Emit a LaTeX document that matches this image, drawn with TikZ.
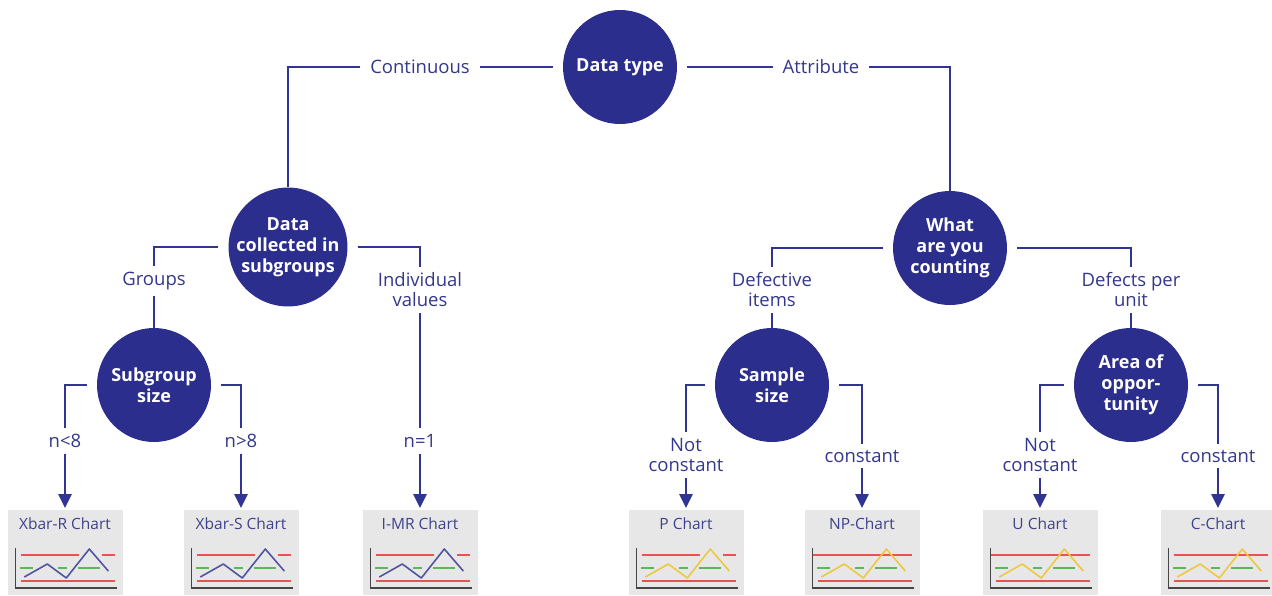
\documentclass[tikz,border=0pt]{standalone}
\usepackage{fontspec}
\setmainfont{Open Sans}
\usetikzlibrary{arrows.meta}
\definecolor{navy}{RGB}{43,46,140}
\definecolor{linecol}{RGB}{48,52,146}
\definecolor{labcol}{RGB}{52,56,140}
\definecolor{titlecol}{RGB}{62,66,142}
\definecolor{boxgrey}{RGB}{231,231,231}
\definecolor{axiscol}{RGB}{70,70,70}
\definecolor{limred}{RGB}{232,82,82}
\definecolor{cgreen}{RGB}{92,182,92}
\definecolor{dblue}{RGB}{82,84,160}
\definecolor{dyellow}{RGB}{238,200,64}

\tikzset{
  decision/.style={circle, fill=navy, text=white, minimum size=114pt, inner sep=0pt,
    align=center, font=\fontsize{18}{21}\selectfont\bfseries},
  lab/.style={fill=white, text=labcol, align=center, inner xsep=10pt, inner ysep=6pt,
    font=\fontsize{18.5}{20}\selectfont},
  conn/.style={draw=linecol, line width=2.6pt},
  arr/.style={conn, -{Triangle[width=13pt,length=14pt]}, shorten >=2pt},
  chartbox/.style={fill=boxgrey, draw=none, minimum width=115pt, minimum height=85pt,
    inner sep=0pt, anchor=north},
  charttitle/.style={text=titlecol, font=\fontsize{15.5}{17}\selectfont, inner sep=0pt},
}

% small control chart inside a grey box: #1 box node, #2 data colour, #3 upper limit path
\newcommand\spcsketch[3]{%
  \begin{scope}[shift={(#1.north west)}]
    \draw[limred, line width=1.6pt] #3;
    \draw[limred, line width=1.6pt] (14,71) -- (108,71);
    \draw[cgreen, line width=1.6pt] (13,58) -- (26,58) (51,58) -- (60,58) (71,58) -- (93,58);
    \draw[#2, line width=1.6pt, line join=round] (17,67) -- (40,54) -- (59,68) -- (82,39) -- (101,61);
    \draw[axiscol, line width=1.6pt] (8,38) -- (8,78) -- (110,78);
  \end{scope}}

\begin{document}
\begin{tikzpicture}[x=1pt, y=-1pt]
\useasboundingbox (0,0) rectangle (1272,595);

% decision circles
\node[decision] (dt) at (620,67) {Data type};
\node[decision] (dc) at (288,247) {Data\\collected in\\subgroups};
\node[decision] (wc) at (950,248) {What\\are you\\counting};
\node[decision] (sg) at (154,385) {Subgroup\\size};
\node[decision] (ss) at (772,385) {Sample\\size};
\node[decision] (ao) at (1131,385) {Area of\\oppor-\\tunity};

% chart boxes
\node[chartbox] (b1) at (65,510) {};
\node[chartbox] (b2) at (241,510) {};
\node[chartbox] (b3) at (420,510) {};
\node[chartbox] (b4) at (686,510) {};
\node[chartbox] (b5) at (862,510) {};
\node[chartbox] (b6) at (1040,510) {};
\node[chartbox] (b7) at (1218,510) {};

\node[charttitle] (t1) at ([yshift=-14pt]b1.north) {Xbar-R Chart};
\node[charttitle] (t2) at ([yshift=-14pt]b2.north) {Xbar-S Chart};
\node[charttitle] (t3) at ([yshift=-14pt]b3.north) {I-MR Chart};
\node[charttitle] (t4) at ([yshift=-14pt]b4.north) {P Chart};
\node[charttitle] (t5) at ([yshift=-14pt]b5.north) {NP-Chart};
\node[charttitle] (t6) at ([yshift=-14pt]b6.north) {U Chart};
\node[charttitle] (t7) at ([yshift=-14pt]b7.north) {C-Chart};

\spcsketch{b1}{dblue}{(14,45) -- (72,45) (95,45) -- (108,45)}
\spcsketch{b2}{dblue}{(14,45) -- (72,45) (95,45) -- (108,45)}
\spcsketch{b3}{dblue}{(14,45) -- (72,45) (95,45) -- (108,45)}
\spcsketch{b4}{dyellow}{(14,45) -- (72,45) (95,45) -- (108,45)}
\spcsketch{b5}{dyellow}{(8,45) -- (108,45)}
\spcsketch{b6}{dyellow}{(8,45) -- (108,45)}
\spcsketch{b7}{dyellow}{(14,45) -- (108,45)}

% connectors
\draw[conn] ([xshift=-10pt]dt.west) -| (dc.north);
\draw[conn] ([xshift=10pt]dt.east) -| (wc.north);
\draw[conn] ([xshift=-10pt]dc.west) -| (sg.north);
\draw[arr] ([xshift=10pt]dc.east) -| (b3.north);
\draw[arr] ([xshift=-10pt]sg.west) -| (b1.north);
\draw[arr] ([xshift=10pt]sg.east) -| (b2.north);
\draw[conn] ([xshift=-10pt]wc.west) -| (ss.north);
\draw[conn] ([xshift=10pt]wc.east) -| (ao.north);
\draw[arr] ([xshift=-10pt]ss.west) -| (b4.north);
\draw[arr] ([xshift=10pt]ss.east) -| (b5.north);
\draw[arr] ([xshift=-10pt]ao.west) -| (b6.north);
\draw[arr] ([xshift=10pt]ao.east) -| (b7.north);

% branch labels
\node[lab] (lcont) at (420,67) {Continuous};
\node[lab] (lattr) at (821,67) {Attribute};
\node[lab] (lgrp) at (154,281) {Groups};
\node[lab] (lind) at (420,290) {Individual\\values};
\node[lab] (lnlt) at (65,441) {n<8};
\node[lab] (lngt) at (241,441) {n>8};
\node[lab] (lneq) at (420,441) {n=1};
\node[lab] (ldef) at (772,290) {Defective\\items};
\node[lab] (ldpu) at (1131,290) {Defects per\\unit};
\node[lab] (lnc1) at (686,455) {Not\\constant};
\node[lab] (lc1) at (862,456) {constant};
\node[lab] (lnc2) at (1040,455) {Not\\constant};
\node[lab] (lc2) at (1218,456) {constant};
\end{tikzpicture}
\end{document}
